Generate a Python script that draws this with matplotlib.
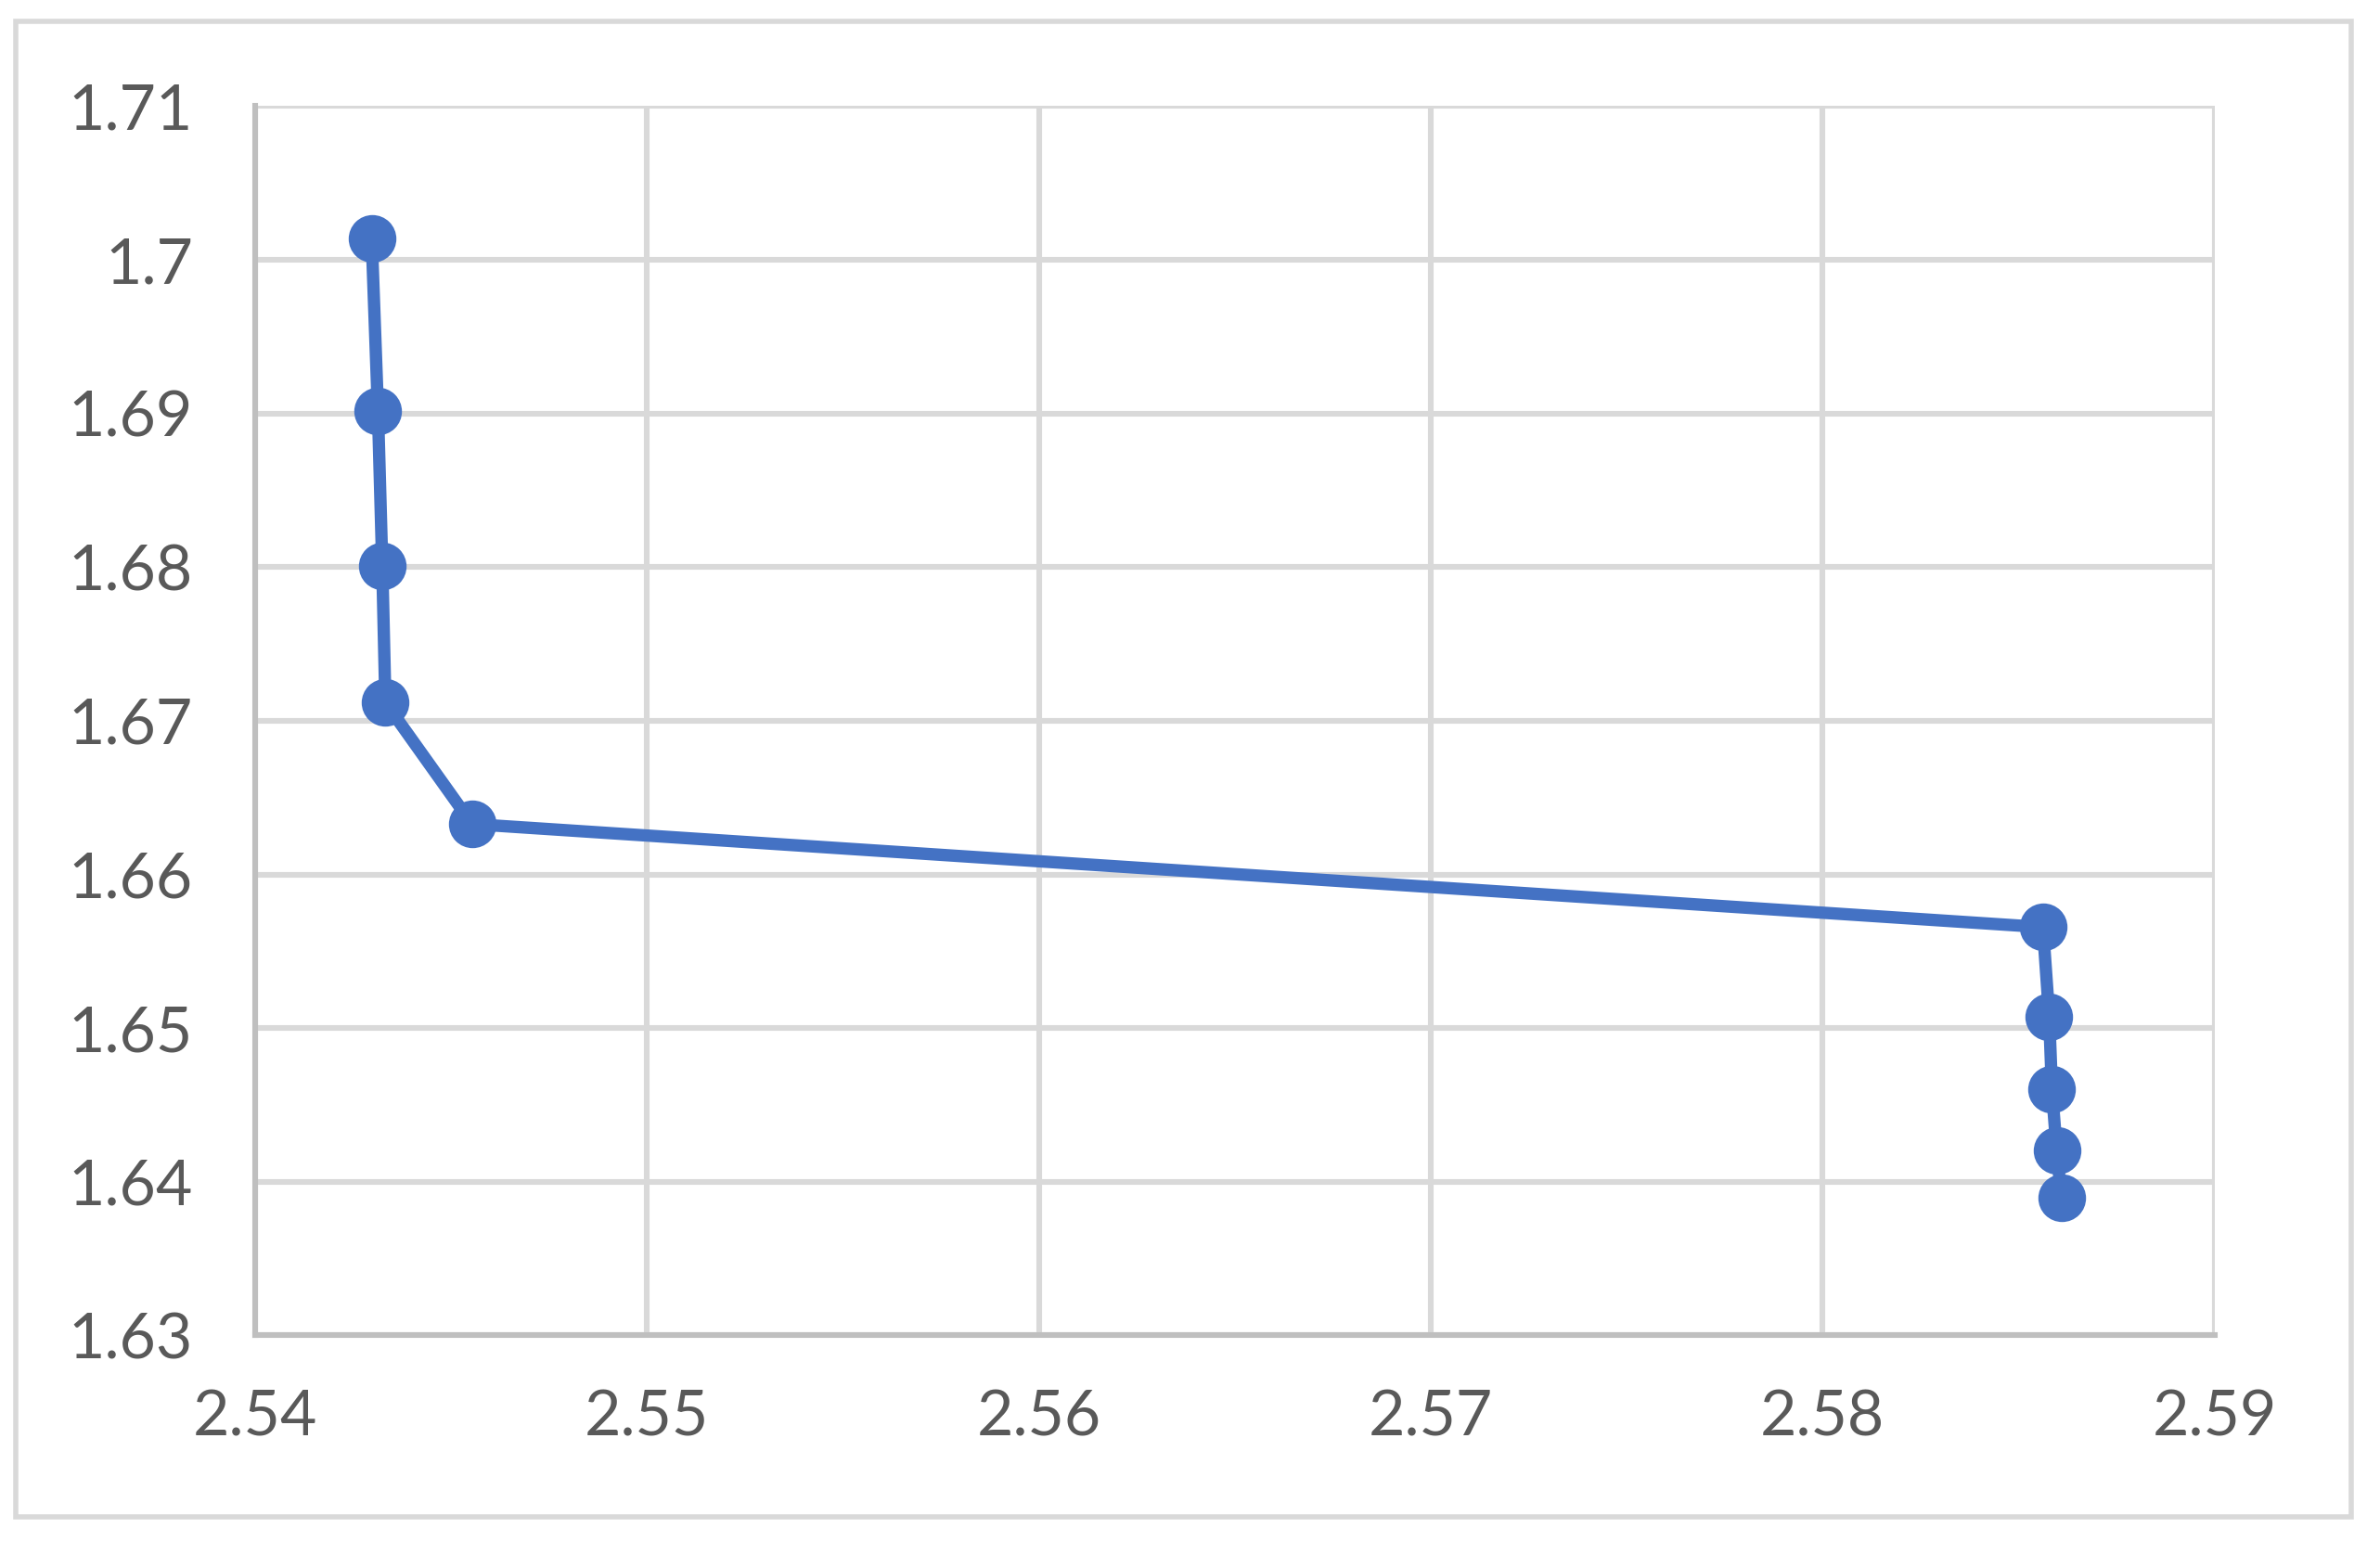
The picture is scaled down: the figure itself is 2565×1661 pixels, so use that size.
import matplotlib.pyplot as plt
from matplotlib.patches import Rectangle

x_vals = [2.54298, 2.54314, 2.54325, 2.54333, 2.54554,
          2.58562, 2.58578, 2.58585, 2.58597, 2.58609]
y_vals = [1.70141, 1.69015, 1.68007, 1.67119, 1.66328,
          1.65657, 1.65074, 1.64600, 1.64205, 1.63899]

x_ticks = [2.54, 2.55, 2.56, 2.57, 2.58, 2.59]
x_labels = ['2.54', '2.55', '2.56', '2.57', '2.58', '2.59']
y_ticks = [1.63, 1.64, 1.65, 1.66, 1.67, 1.68, 1.69, 1.70, 1.71]
y_labels = ['1.63', '1.64', '1.65', '1.66', '1.67', '1.68', '1.69', '1.7', '1.71']

plt.rcParams['font.family'] = ['Lato', 'DejaVu Sans']

fig = plt.figure(figsize=(12.825, 8.305), dpi=200)
ax = fig.add_axes([0.1071, 0.1334, 0.8234, 0.7977])

# outer chart border
fig.patches.append(Rectangle((0.0066, 0.0155), 0.9815, 0.9705, transform=fig.transFigure,
                             fill=False, edgecolor='#d9d9d9', linewidth=2.0))

ax.plot(x_vals, y_vals, color='#4472C4', linewidth=4.8, marker='o',
        markersize=17.5, markerfacecolor='#4472C4', markeredgecolor='#4472C4', zorder=3)

ax.set_xlim(2.54, 2.59)
ax.set_ylim(1.63, 1.71)
ax.set_xticks(x_ticks)
ax.set_xticklabels(x_labels)
ax.set_yticks(y_ticks)
ax.set_yticklabels(y_labels)

ax.grid(True, color='#d9d9d9', linewidth=2.2)
ax.set_axisbelow(True)
for side in ['top', 'right']:
    ax.spines[side].set_visible(False)
for side in ['left', 'bottom']:
    ax.spines[side].set_color('#bfbfbf')
    ax.spines[side].set_linewidth(2.2)

ax.tick_params(axis='both', length=0, labelsize=24.5, labelcolor='#595959')
ax.tick_params(axis='y', pad=24)
ax.tick_params(axis='x', pad=21)

fig.savefig('out.png', dpi=200)
